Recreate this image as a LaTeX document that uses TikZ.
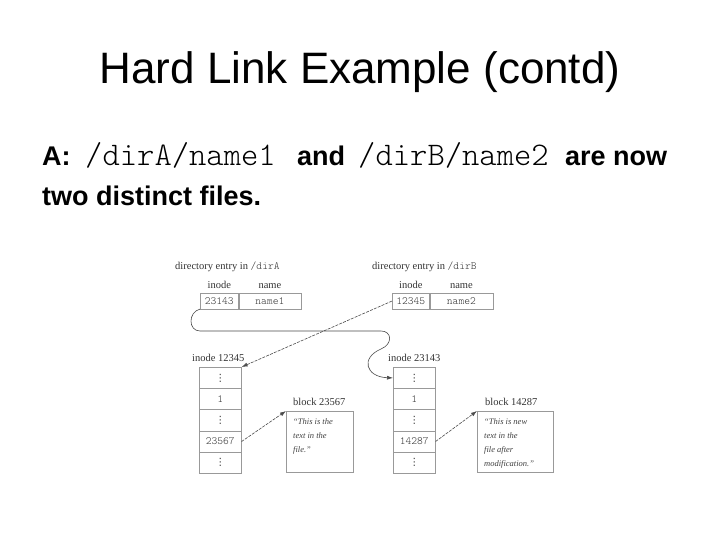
\documentclass[tikz,border=0pt]{standalone}
\usepackage{fontspec}
\setmainfont{Liberation Sans}
\setmonofont{Latin Modern Mono Light}
\newfontfamily\figrm{Liberation Serif}
\newfontfamily\symfont{DejaVu Sans}
\newcommand\vd{{\fontsize{10}{10}\symfont ⋮}}
\usetikzlibrary{arrows.meta,positioning}

\begin{document}
\begin{tikzpicture}[x=1pt,y=-1pt,>={Latex[length=6pt,width=4pt]},
  lbl/.style={font=\fontsize{10.5}{12}\figrm,text=black!80,inner sep=0pt},
  cell/.style={draw=black!40,line width=0.6pt,minimum height=15.5pt,inner sep=0pt,
    anchor=north west,font=\fontsize{11}{12}\ttfamily,text=black!80},
  icell/.style={cell,minimum width=42pt,minimum height=21.2pt},
  blk/.style={draw=black!40,line width=0.6pt,inner sep=0pt,anchor=north west,
    minimum width=67pt,minimum height=61pt},
  btxt/.style={font=\fontsize{8.5}{14}\figrm\itshape,text=black!75,align=left,
    inner sep=0pt,anchor=north west},
  ptr/.style={->,draw=black!70,line width=0.6pt,dash pattern=on 3pt off 1.2pt},
  wrap/.style={->,draw=black!70,line width=0.6pt},
  body/.style={font=\fontsize{27}{32}\bfseries,inner sep=0pt,anchor=base west},
  path/.style={font=\fontsize{33}{36}\ttfamily,inner sep=0pt,anchor=base west},
]
\fill[white] (0,0) rectangle (720,540);
\useasboundingbox (0,0) rectangle (720,540);

\node[font=\fontsize{44}{50}\selectfont] (title) at (360,72) {Hard Link Example (contd)};

% answer text
\node[body] (l1a) at (42,166) {A:};
\node[path] (l1b) at (85,166) {/dirA/name1};
\node[body] (l1c) at (297,166) {and};
\node[path] (l1d) at (358,166) {/dirB/name2};
\node[body] (l1e) at (565,166) {are now};
\node[body] (l2) at (42,206) {two distinct files.};

% directory entries
\node[lbl,anchor=base west] (hdA) at (175,269) {directory entry in {\fontsize{11}{12}\ttfamily/dirA}};
\node[cell,minimum width=38pt] (dAi) at (200,293) {23143};
\node[cell,minimum width=62pt] (dAn) at (dAi.north east) {name1};
\node[lbl,above=4pt of dAi] {inode};
\node[lbl,above=4pt of dAn] {name};

\node[lbl,anchor=base west] (hdB) at (372,269) {directory entry in {\fontsize{11}{12}\ttfamily/dirB}};
\node[cell,minimum width=37pt] (dBi) at (392,293) {12345};
\node[cell,minimum width=63pt] (dBn) at (dBi.north east) {name2};
\node[lbl,above=4pt of dBi] {inode};
\node[lbl,above=4pt of dBn] {name};

% i-nodes
\node[lbl,anchor=base west] (inA) at (192,361) {inode 12345};
\foreach \t [count=\k] in {\vd,1,\vd,23567,\vd}
  \node[icell] (iA\k) at (199,{367+(\k-1)*21.2}) {\t};
\node[lbl,anchor=base west] (inB) at (388,361) {inode 23143};
\foreach \t [count=\k] in {\vd,1,\vd,14287,\vd}
  \node[icell] (iB\k) at (393,{367+(\k-1)*21.2}) {\t};

% data blocks
\node[blk] (blkA) at (286,411) {};
\node[lbl,anchor=base west] (bA) at (293,405) {block 23567};
\node[btxt] (tA) at ([xshift=7pt,yshift=-7pt]blkA.north west) {“This is the\\text in the\\file.”};
\node[blk,minimum width=76pt] (blkB) at (477,411) {};
\node[lbl,anchor=base west] (bB) at (485,405) {block 14287};
\node[btxt] (tB) at ([xshift=7pt,yshift=-7pt]blkB.north west) {“This is new\\text in the\\file after\\modification.”};

% links
\draw[ptr] (dBi.west) -- (iA1.north east);
\draw[ptr] (iA4.east) -- (blkA.north west);
\draw[ptr] (iB4.east) -- (blkB.north west);
\coordinate (wl) at (200,331);
\coordinate (wr) at (381,331);
\coordinate (wm) at (381,349);
\draw[wrap] (dAi.south west) .. controls (188,312) and (188,331) .. (wl) -- (wr)
  .. controls (392,331) and (393,344) .. (wm)
  .. controls (360,358) and (366,377) .. (iB1.west);

\end{tikzpicture}
\end{document}
